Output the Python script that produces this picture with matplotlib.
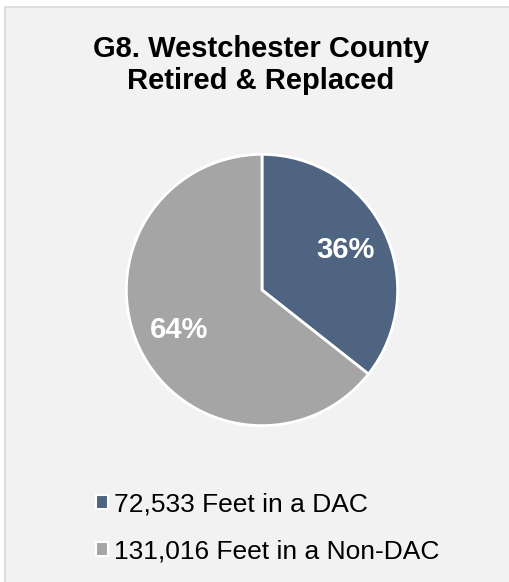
import matplotlib.pyplot as plt
from matplotlib.patches import Rectangle

plt.rcParams['font.family'] = ['Liberation Sans', 'DejaVu Sans']

labels = ['72,533 Feet in a DAC', '131,016 Feet in a Non-DAC']
feet = [72533, 131016]
colors = ['#4f6481', '#a5a5a5']

fig = plt.figure(figsize=(5.1, 5.82), dpi=100)
fig.patch.set_facecolor('white')
# chart area panel, running off the right and bottom edges
fig.patches.append(Rectangle((5 / 510, -0.01), 1.0, 1 - 7 / 582 + 0.01,
                             transform=fig.transFigure, facecolor='#f2f2f2',
                             edgecolor='#d9d9d9', linewidth=1.2, zorder=-5))

fig.text(0.512, 1 - 65 / 582, 'G8. Westchester County\nRetired & Replaced',
         ha='center', va='center', fontsize=21, fontweight='bold',
         linespacing=1.15)

r = 137
ax = fig.add_axes([(262 - r) / 510, 1 - (290 + r) / 582, 2 * r / 510, 2 * r / 582])
ax.set_facecolor('none')
wedges, texts, autotexts = ax.pie(
    feet, colors=colors, startangle=90, counterclock=False,
    autopct=lambda p: f'{p:.0f}%', pctdistance=0.68,
    wedgeprops=dict(edgecolor='white', linewidth=2),
    textprops=dict(color='white', fontsize=21, fontweight='bold'))
ax.set_aspect('equal')
ax.set_xlim(-1.01, 1.01)
ax.set_ylim(-1.01, 1.01)

leg = fig.legend(wedges, labels, loc='upper left', bbox_to_anchor=(72 / 510, 1 - 469 / 582),
                 frameon=False, fontsize=19, handlelength=0.45, handleheight=0.45,
                 handletextpad=0.25, labelspacing=0.85)
for h in leg.legend_handles:
    h.set_edgecolor('white')
    h.set_linewidth(1.5)

fig.savefig('out.png', dpi=100)
